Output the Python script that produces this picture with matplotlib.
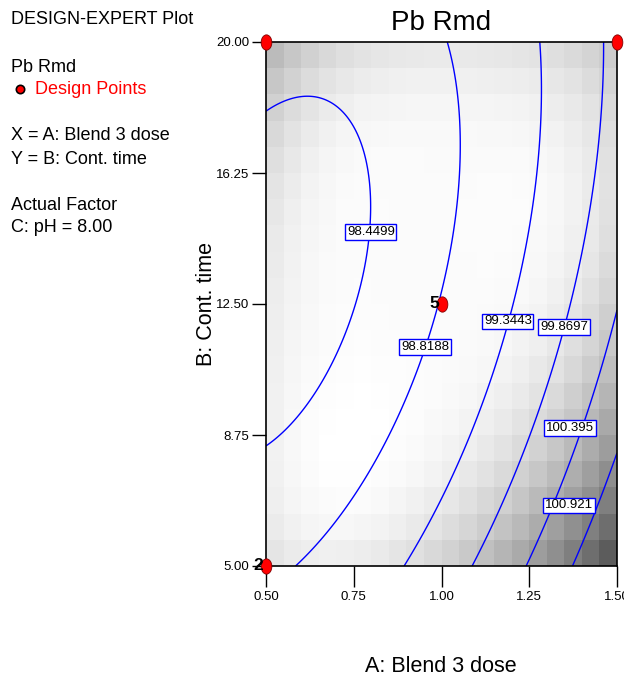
import numpy as np
import matplotlib.pyplot as plt
from matplotlib.path import Path
from matplotlib.transforms import Affine2D

plt.rcParams['font.family'] = ['Liberation Sans', 'DejaVu Sans']

# fitted response (coded A, B at pH = 8.00): b0, A, B, A^2, B^2, AB
coef = [98.8373, 1.0370, -0.40962, 0.50309, 0.36752, -0.33820]

levels = [98.4499, 98.8188, 99.3443, 99.8697, 100.395, 100.921]
label_x = [0.799, 0.953, 1.189, 1.349, 1.366, 1.363]
label_y = [14.56, 11.27, 12.01, 11.84, 8.95, 6.74]

# design points shown in this slice (A, B) and their run counts
design_x = [0.5, 1.5, 0.5, 1.0]
design_y = [20.0, 20.0, 5.0, 12.5]
design_runs = [1, 1, 2, 5]
# remaining runs of the design (coded A, B, C), off this slice
other_a = [-1, 1, -1, 1, 0, 0, 0, 0]
other_b = [0, 0, 0, 0, -1, 1, -1, 1]
other_c = [-1, -1, 1, 1, -1, -1, 1, 1]


def to_a(x):
    return (np.asarray(x) - 1.0) / 0.5


def to_b(y):
    return (np.asarray(y) - 12.5) / 7.5


def model(a, b):
    return (coef[0] + coef[1]*a + coef[2]*b + coef[3]*a**2 + coef[4]*b**2
            + coef[5]*a*b)


def terms(a, b, c):
    a, b, c = np.broadcast_arrays(np.asarray(a, float), np.asarray(b, float), np.asarray(c, float))
    return np.stack([np.ones_like(a), a, b, c, a*a, b*b, c*c, a*b, a*c, b*c], axis=-1)


# standard error of the design -> grey shading
run_a = np.concatenate([np.repeat(to_a(design_x), design_runs), other_a])
run_b = np.concatenate([np.repeat(to_b(design_y), design_runs), other_b])
run_c = np.concatenate([np.zeros(sum(design_runs)), other_c])
X = terms(run_a, run_b, run_c)
XtX_inv = np.linalg.pinv(X.T @ X)

fig = plt.figure(figsize=(6.24, 6.77), dpi=100)
ax = fig.add_axes([266/624, 111/677, 351/624, 524/677])

edges_x = np.linspace(0.5, 1.5, 21)
edges_y = np.linspace(5, 20, 21)
cx = (edges_x[:-1] + edges_x[1:]) / 2
cy = (edges_y[:-1] + edges_y[1:]) / 2
CA, CB = np.meshgrid(to_a(cx), to_b(cy))
T = terms(CA, CB, 0.0)
se = np.sqrt(np.einsum('ijk,kl,ijl->ij', T, XtX_inv, T))
rel = (se - se.min()) / (se.max() - se.min())
shade = 1 - 0.64 * rel
ax.pcolormesh(edges_x, edges_y, shade, cmap='gray', vmin=0, vmax=1,
              shading='flat', edgecolors='none', zorder=0)

gx = np.linspace(0.5, 1.5, 201)
gy = np.linspace(5, 20, 201)
GX, GY = np.meshgrid(gx, gy)
Z = model(to_a(GX), to_b(GY))
ax.contour(GX, GY, Z, levels=levels, colors='#0000ff', linewidths=1.0, zorder=2)

for lv, lx, ly in zip(levels, label_x, label_y):
    ax.text(lx, ly, f'{lv:g}', fontsize=9.5, ha='center', va='center', zorder=4,
            bbox=dict(boxstyle='square,pad=0.12', fc='white', ec='#0000ff', lw=1))

ell = Path.unit_circle().transformed(Affine2D().scale(0.7, 1.0))
ax.plot(design_x, design_y, linestyle='none', marker=ell, markersize=11,
        mfc='red', mec='#800000', mew=0.6, clip_on=False, zorder=5)
for dx, dy, n in zip(design_x, design_y, design_runs):
    if n > 1:
        ax.text(dx - 0.008, dy, str(n), fontsize=12.5, fontweight='bold', ha='right',
                va='center', zorder=5, clip_on=False)

ax.set_xlim(0.5, 1.5)
ax.set_ylim(5, 20)
ax.set_xticks([0.5, 0.75, 1.0, 1.25, 1.5])
ax.set_xticklabels(['0.50', '0.75', '1.00', '1.25', '1.50'])
ax.set_yticks([5, 8.75, 12.5, 16.25, 20])
ax.set_yticklabels(['5.00', '8.75', '12.50', '16.25', '20.00'])
ax.tick_params(axis='x', length=15, width=1, labelsize=9.5, pad=3)
ax.tick_params(axis='y', length=10, width=1, labelsize=9.5, pad=2)
for s in ax.spines.values():
    s.set_linewidth(1.2)

fig.text(441/624, 1 - 23/677, 'Pb Rmd', fontsize=20, ha='center', va='center')
fig.text(441/624, 1 - 666/677, 'A: Blend 3 dose', fontsize=15.5, ha='center', va='center')
fig.text(207/624, 1 - 304/677, 'B: Cont. time', fontsize=15.5, rotation=90,
         ha='center', va='center')

left_lines = [('DESIGN-EXPERT Plot', 19), ('Pb Rmd', 67), ('X = A: Blend 3 dose', 136),
              ('Y = B: Cont. time', 159), ('Actual Factor', 206), ('C: pH = 8.00', 228)]
for txt, yy in left_lines:
    fig.text(11/624, 1 - yy/677, txt, fontsize=13, ha='left', va='center')
fig.text(35/624, 1 - 89/677, 'Design Points', fontsize=13, color='red', ha='left', va='center')
fig.lines.append(plt.Line2D([20/624], [1 - 89/677], marker='o', markersize=6, mfc='red',
                            mec='black', mew=1.2, transform=fig.transFigure))

fig.savefig('out.png', dpi=100)
